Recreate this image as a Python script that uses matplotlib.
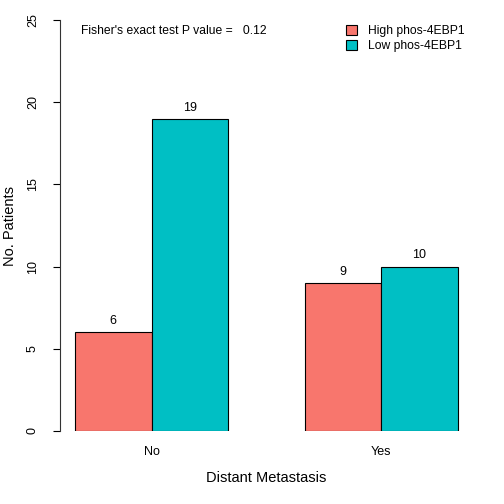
import numpy as np
import matplotlib
matplotlib.use("Agg")
import matplotlib.pyplot as plt

groups = ["No", "Yes"]
series = ["High phos-4EBP1", "Low phos-4EBP1"]
high = [6, 9]
low = [19, 10]
colors = ["#F8766D", "#00BFC4"]
yticks = [0, 5, 10, 15, 20, 25]
p_value = 0.12

plt.rcParams["font.family"] = ["Liberation Sans", "DejaVu Sans"]

W = H = 504
fig = plt.figure(figsize=(5.04, 5.04), dpi=100)
# axes placed in pixel coords: x 59.8..473, y 20(top)..431(bottom) for 0..25
left, right, top, bottom = 59.8, 473.0, 20.0, 431.0
ax = fig.add_axes([left / W, 1 - bottom / H, (right - left) / W, (bottom - top) / H])

x_high = np.array([1.5, 4.5])
x_low = x_high + 1
lw = 0.8
ax.bar(x_high, high, width=1, color=colors[0], edgecolor="black", linewidth=lw, label=series[0])
ax.bar(x_low, low, width=1, color=colors[1], edgecolor="black", linewidth=lw, label=series[1])

for xs, vals in [(x_high, high), (x_low, low)]:
    for x, v in zip(xs, vals):
        ax.annotate(str(v), (x, v), xytext=(0, 8), textcoords="offset points",
                    ha="center", va="center", fontsize=9)

ax.set_xlim(0.8, 6.2)
ax.set_ylim(0, 25)
for s in ["top", "right", "bottom"]:
    ax.spines[s].set_visible(False)
ax.spines["left"].set_linewidth(0.8)
ax.spines["left"].set_color("#333333")

ax.set_yticks(yticks)
ax.set_yticklabels([str(t) for t in yticks], rotation=90, va="center", fontsize=9)
ax.tick_params(axis="y", length=5, width=0.8, pad=10)

ax.set_xticks((x_high + x_low) / 2)
ax.set_xticklabels(groups, fontsize=9)
ax.tick_params(axis="x", length=0, pad=11)

ax.set_xlabel("Distant Metastasis", fontsize=10.5, labelpad=9)
ax.set_ylabel("No. Patients", fontsize=10.5, va="center")
ax.yaxis.set_label_coords((10 - left) / (right - left), 0.5)

ax.text((81 - left) / (right - left), (bottom - 31) / (bottom - top),
        f"Fisher's exact test P value =   {p_value}", transform=ax.transAxes,
        fontsize=8.7, ha="left", va="center")

ax.legend(loc="upper left", bbox_to_anchor=(346 / W, 1 - 25 / H), bbox_transform=fig.transFigure,
          frameon=False, fontsize=8.7, handlelength=0.9, handleheight=0.9,
          handletextpad=0.9, labelspacing=0.2, borderaxespad=0, borderpad=0)

fig.savefig("out.png", dpi=100)
